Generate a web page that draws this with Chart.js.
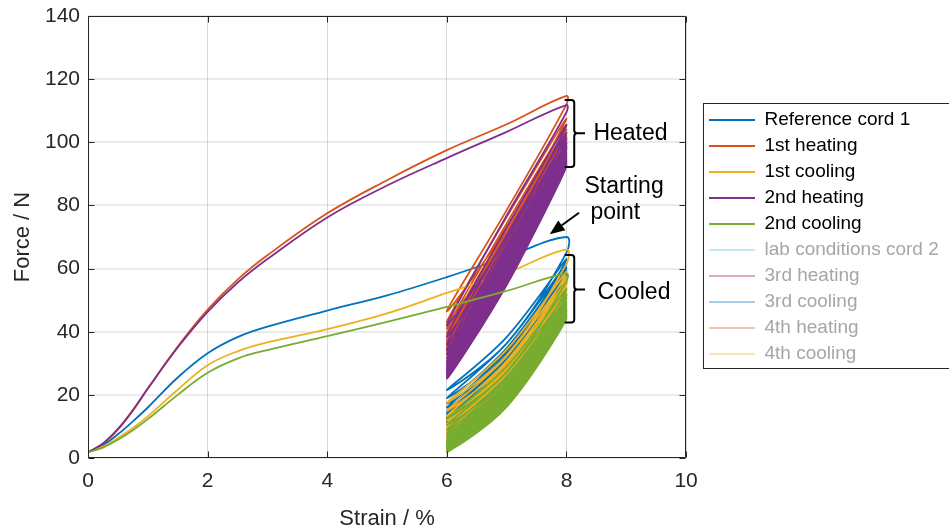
<!DOCTYPE html>
<html>
<head>
<meta charset="utf-8">
<script src="https://cdn.jsdelivr.net/npm/chart.js@4.4.1/dist/chart.umd.min.js"></script>
<style>
  html, body { margin: 0; padding: 0; background: #ffffff; }
  canvas { display: block; }
</style>
</head>
<body>
<canvas id="c" width="949" height="532"></canvas>
<script>
// ---------------- DATA ----------------
const seriesLabels = ['Reference cord 1', '1st heating', '1st cooling', '2nd heating', '2nd cooling',
                      'lab conditions cord 2', '3rd heating', '3rd cooling', '4th heating', '4th cooling'];
const xTickValues = [0, 2, 4, 6, 8, 10];
const yTickValues = [0, 20, 40, 60, 80, 100, 120, 140];

// strain levels of the cyclic part (%)
const cycleLow = 6, cycleMid = 7, cycleHigh = 8;

// first loading curve: strain (%) and force (N)
const initStrain = [0, 0.25, 0.5, 0.75, 1, 1.5, 2, 2.5, 3, 4, 5, 6, 7, 8];
const ref1Init  = [1.8, 4.0, 7.5, 11.6, 16.0, 25.5, 33.2, 38.3, 41.6, 46.7, 51.5, 57.3, 63.7, 70.0];
const heat1Init = [1.8, 4.5, 9.0, 15.0, 22.0, 35.3, 47.0, 56.5, 64.2, 77.5, 88.0, 97.5, 105.7, 114.7];
const cool1Init = [1.8, 3.6, 6.3, 9.5, 13.2, 21.6, 29.4, 33.8, 36.6, 40.8, 45.8, 52.3, 58.6, 66.0];
const heat2Init = [1.8, 4.6, 9.2, 15.2, 22.0, 35.0, 46.3, 55.5, 63.0, 76.2, 86.3, 95.0, 103.3, 111.8];
const cool2Init = [1.8, 3.3, 5.8, 8.8, 12.3, 20.0, 27.0, 31.5, 34.2, 38.6, 43.1, 47.9, 52.9, 58.5];

// cycles between 6 % and 8 %: force at 8 % (peaks), at 6 % (troughs),
// and at 7 % on the unloading and on the reloading path
const ref1Peaks   = [65, 63, 61.5, 60.3, 59.3, 58.5, 57.8, 57.2, 56.6, 56.1, 55.6, 55.2, 54.8];
const ref1Troughs = [21.5, 19, 17.3, 16, 15, 14.2, 13.5, 12.9, 12.4, 11.9, 11.5, 11.1];
const ref1Unload  = [36.3, 34, 32.4, 31.2, 30.2, 29.4, 28.7, 28, 27.5, 27, 26.6, 26.2];
const ref1Load    = [38.3, 36.3, 34.8, 33.7, 32.8, 32, 31.4, 30.8, 30.3, 29.8, 29.4, 29];

const heat1Peaks   = [112, 107.5, 105.5, 104, 103, 102, 101.2, 100.5, 99.8, 99.2, 98.6, 98, 97.5];
const heat1Troughs = [46.5, 43, 41, 39.5, 38.2, 37.2, 36.3, 35.5, 34.8, 34.2, 33.6, 33];
const heat1Unload  = [78.5, 76.3, 74.3, 72.8, 71.6, 70.6, 69.8, 69, 68.3, 67.7, 67.1, 66.5];
const heat1Load    = [73, 70.3, 68.5, 67.3, 66.1, 65.2, 64.4, 63.7, 63, 62.4, 61.8, 61.3];

const cool1Peaks   = [61.5, 59, 57.3, 56, 55, 54.2, 53.5, 52.9, 52.4, 51.9, 51.5, 51.1, 50.8];
const cool1Troughs = [17.5, 15, 13.3, 12, 11, 10.2, 9.5, 8.9, 8.4, 7.9, 7.5, 7.1];
const cool1Unload  = [32.5, 30, 28.3, 27, 26, 25.2, 24.5, 23.9, 23.4, 22.9, 22.5, 22.1];
const cool1Load    = [34.3, 32.2, 30.7, 29.5, 28.6, 27.9, 27.2, 26.7, 26.2, 25.7, 25.3, 25];

const heat2Peaks   = [109.5, 105.5, 103, 101.2, 99.8, 98.6, 97.6, 96.8, 96, 95.3, 94.7, 94.1, 93.6, 93.2, 92.8, 92.5, 92.3];
const heat2Troughs = [42, 38.5, 36, 34.2, 32.8, 31.6, 30.6, 29.8, 29.1, 28.5, 27.9, 27.4, 26.9, 26.4, 25.8, 25.2];
const heat2Unload  = [76.8, 73, 70.5, 68.7, 67.3, 66.1, 65.1, 64.3, 63.6, 62.9, 62.3, 61.8, 61.3, 60.8, 60.3, 59.9];
const heat2Load    = [69.8, 66.8, 64.6, 63, 61.7, 60.6, 59.7, 58.9, 58.2, 57.6, 57, 56.5, 56, 55.6, 55.1, 54.8];

const cool2Peaks   = [56, 53.5, 51.8, 50.5, 49.5, 48.7, 48, 47.4, 46.9, 46.4, 46, 45.6, 45.2, 44.9, 44.6, 44.3, 44];
const cool2Troughs = [12.5, 10.5, 9, 7.9, 7, 6.3, 5.7, 5.2, 4.7, 4.3, 3.9, 3.5, 3.1, 2.7, 2.3, 2];
const cool2Unload  = [27.3, 25, 23.4, 22.2, 21.3, 20.5, 19.9, 19.3, 18.8, 18.4, 18, 17.6, 17.2, 16.8, 16.5, 16.2];
const cool2Load    = [29, 27.2, 25.8, 24.7, 23.9, 23.2, 22.6, 22.1, 21.6, 21.2, 20.8, 20.4, 20, 19.7, 19.3, 19];

// ---------------- STYLE ----------------
const seriesColors = ['#0072BD', '#D95319', '#EDB120', '#7E2F8E', '#77AC30',
                      '#4DBEEE', '#A2142F', '#0072BD', '#D95319', '#EDB120'];
const FONT = "'Liberation Sans', Arial, Helvetica, sans-serif";
const AXIS_COLOR = '#262626';

function fade(hex, a) {
  const r = parseInt(hex.slice(1, 3), 16), g = parseInt(hex.slice(3, 5), 16), b = parseInt(hex.slice(5, 7), 16);
  return 'rgba(' + r + ',' + g + ',' + b + ',' + a + ')';
}

function buildSeries(init, peaks, troughs, unload, load) {
  const pts = initStrain.map((s, i) => ({ x: s, y: init[i] }));
  pts.push({ x: cycleHigh, y: peaks[0] });
  for (let i = 0; i < troughs.length; i++) {
    pts.push({ x: cycleMid, y: unload[i] });
    pts.push({ x: cycleLow, y: troughs[i] });
    pts.push({ x: cycleMid, y: load[i] });
    pts.push({ x: cycleHigh, y: peaks[i + 1] });
  }
  return pts;
}

const seriesData = [
  buildSeries(ref1Init, ref1Peaks, ref1Troughs, ref1Unload, ref1Load),
  buildSeries(heat1Init, heat1Peaks, heat1Troughs, heat1Unload, heat1Load),
  buildSeries(cool1Init, cool1Peaks, cool1Troughs, cool1Unload, cool1Load),
  buildSeries(heat2Init, heat2Peaks, heat2Troughs, heat2Unload, heat2Load),
  buildSeries(cool2Init, cool2Peaks, cool2Troughs, cool2Unload, cool2Load),
  [], [], [], [], []
];

const datasets = seriesLabels.map((lab, i) => {
  const shown = seriesData[i].length > 0;
  return {
    label: lab,
    data: seriesData[i],
    borderColor: seriesColors[i],
    backgroundColor: seriesColors[i],
    legendColor: shown ? seriesColors[i] : fade(seriesColors[i], 0.35),
    borderWidth: 1.8,
    pointRadius: 0,
    showLine: true,
    fill: false,
    tension: 0.38,
    order: 20 - i
  };
});

// ---------------- LAYOUT HELPERS ----------------
const LEGEND_FONT = 19;
const LEGEND_PAD = 7;
const LEGEND_BOX = 46;
const PLOT_RIGHT = 684;
const LEGEND_LINE_X = 709;

const mctx = document.createElement('canvas').getContext('2d');
mctx.font = LEGEND_FONT + 'px ' + FONT;
let maxText = 0;
seriesLabels.forEach(t => { maxText = Math.max(maxText, mctx.measureText(t).width); });
const legendW = LEGEND_PAD + LEGEND_BOX + LEGEND_FONT / 2 + maxText;
const padRight = Math.max(0, 949 - PLOT_RIGHT - legendW + 6);

// ---------------- PLUGINS ----------------
const legendShift = {
  id: 'legendShift',
  afterLayout(chart) {
    const lg = chart.legend;
    if (!lg) return;
    lg.left = LEGEND_LINE_X - LEGEND_PAD;
    lg.right = chart.width + 60;
    lg.width = lg.right - lg.left;
  }
};

const legendFrame = {
  id: 'legendFrame',
  afterDraw(chart) {
    const lg = chart.legend;
    if (!lg || !lg.legendHitBoxes || !lg.legendHitBoxes.length) return;
    const hb = lg.legendHitBoxes;
    const top = hb[0].top - 7.5;
    const bottom = hb[hb.length - 1].top + hb[hb.length - 1].height + 4.5;
    const left = LEGEND_LINE_X - 6;
    const ctx = chart.ctx;
    ctx.save();
    ctx.strokeStyle = AXIS_COLOR;
    ctx.lineWidth = 1;
    ctx.strokeRect(Math.round(left) + 0.5, Math.round(top) + 0.5, 400, Math.round(bottom - top));
    ctx.restore();
  }
};

const axesBox = {
  id: 'axesBox',
  afterDraw(chart) {
    const { ctx, chartArea: a, scales: { x, y } } = chart;
    const L = Math.round(a.left) + 0.5, R = Math.round(a.right) - 0.5;
    const T = Math.round(a.top) + 0.5, B = Math.round(a.bottom) - 0.5;
    const tl = 6;
    ctx.save();
    ctx.strokeStyle = AXIS_COLOR;
    ctx.lineWidth = 1;
    ctx.beginPath();
    ctx.rect(L, T, R - L, B - T);
    xTickValues.forEach(v => {
      const px = Math.round(x.getPixelForValue(v)) + 0.5;
      ctx.moveTo(px, B); ctx.lineTo(px, B - tl);
      ctx.moveTo(px, T); ctx.lineTo(px, T + tl);
    });
    yTickValues.forEach(v => {
      const py = Math.round(y.getPixelForValue(v)) + 0.5;
      ctx.moveTo(L, py); ctx.lineTo(L + tl, py);
      ctx.moveTo(R, py); ctx.lineTo(R - tl, py);
    });
    ctx.stroke();
    ctx.restore();
  }
};

// annotation positions in data units (strain %, force N)
const heatedBrace = { xHook: 7.97, xStem: 8.13, xTip: 8.31, yTop: 113.4, yBot: 92.2, yMid: 102.9 };
const cooledBrace = { xHook: 7.97, xStem: 8.13, xTip: 8.31, yTop: 64.3, yBot: 42.9, yMid: 53.4 };
const textNotes = [
  { text: 'Heated', x: 8.45, y: 100.7 },
  { text: 'Cooled', x: 8.52, y: 50.3 },
  { text: 'Starting', x: 8.30, y: 84.0 },
  { text: 'point', x: 8.40, y: 75.6 }
];
const startArrow = { x0: 8.21, y0: 77.7, x1: 7.72, y1: 70.9 };

const annotations = {
  id: 'annotations',
  afterDatasetsDraw(chart) {
    const { ctx, scales: { x, y } } = chart;
    const X = v => x.getPixelForValue(v), Y = v => y.getPixelForValue(v);
    ctx.save();
    ctx.strokeStyle = '#000';
    ctx.fillStyle = '#000';
    ctx.lineWidth = 2;
    ctx.lineJoin = 'round';
    [heatedBrace, cooledBrace].forEach(b => {
      const xh = X(b.xHook), xs = X(b.xStem), xt = X(b.xTip);
      const yt = Y(b.yTop), yb = Y(b.yBot), ym = Y(b.yMid);
      const r = 3;
      ctx.beginPath();
      ctx.moveTo(xh, yt);
      ctx.lineTo(xs - r, yt);
      ctx.quadraticCurveTo(xs, yt, xs, yt + r);
      ctx.lineTo(xs, ym - r);
      ctx.quadraticCurveTo(xs, ym, xs + r, ym);
      ctx.lineTo(xt, ym);
      ctx.moveTo(xs + r, ym);
      ctx.quadraticCurveTo(xs, ym, xs, ym + r);
      ctx.lineTo(xs, yb - r);
      ctx.quadraticCurveTo(xs, yb, xs - r, yb);
      ctx.lineTo(xh, yb);
      ctx.stroke();
    });
    // arrow
    const ax0 = X(startArrow.x0), ay0 = Y(startArrow.y0), ax1 = X(startArrow.x1), ay1 = Y(startArrow.y1);
    const ang = Math.atan2(ay1 - ay0, ax1 - ax0);
    const hl = 15, hw = 6;
    const bx = ax1 - hl * Math.cos(ang), by = ay1 - hl * Math.sin(ang);
    ctx.beginPath();
    ctx.moveTo(ax0, ay0);
    ctx.lineTo(bx, by);
    ctx.stroke();
    ctx.beginPath();
    ctx.moveTo(ax1, ay1);
    ctx.lineTo(bx + hw * Math.sin(ang), by - hw * Math.cos(ang));
    ctx.lineTo(bx - hw * Math.sin(ang), by + hw * Math.cos(ang));
    ctx.closePath();
    ctx.fill();
    // texts
    ctx.font = '23px ' + FONT;
    ctx.textAlign = 'left';
    ctx.textBaseline = 'alphabetic';
    textNotes.forEach(t => ctx.fillText(t.text, X(t.x), Y(t.y)));
    ctx.restore();
  }
};

// ---------------- CHART ----------------
Chart.defaults.font.family = FONT;

new Chart(document.getElementById('c'), {
  type: 'scatter',
  data: { datasets },
  options: {
    responsive: false,
    animation: false,
    devicePixelRatio: 1,
    layout: { padding: { left: 0, right: padRight, top: 16, bottom: 0 } },
    plugins: {
      tooltip: { enabled: false },
      legend: {
        display: true,
        position: 'right',
        align: 'center',
        fullSize: false,
        onClick: null,
        labels: {
          boxWidth: LEGEND_BOX,
          boxHeight: 2,
          padding: LEGEND_PAD,
          font: { size: LEGEND_FONT, family: FONT },
          color: '#000',
          generateLabels(chart) {
            return chart.data.datasets.map((ds, i) => ({
              text: ds.label,
              fillStyle: ds.legendColor,
              strokeStyle: ds.legendColor,
              lineWidth: 0,
              hidden: false,
              fontColor: ds.data.length ? '#000000' : '#a6a6a6',
              datasetIndex: i
            }));
          }
        }
      }
    },
    scales: {
      x: {
        type: 'linear',
        min: 0, max: 10,
        afterBuildTicks(s) { s.ticks = xTickValues.map(v => ({ value: v })); },
        afterFit(s) { s.height = 74; },
        border: { display: false },
        grid: { color: 'rgba(0,0,0,0.15)', lineWidth: 1, drawTicks: false },
        ticks: { color: AXIS_COLOR, font: { size: 21 }, padding: 11, maxRotation: 0 },
        title: { display: true, text: 'Strain / %', color: AXIS_COLOR, font: { size: 22 }, padding: { top: 0, bottom: 0 } }
      },
      y: {
        type: 'linear',
        min: 0, max: 140,
        afterBuildTicks(s) { s.ticks = yTickValues.map(v => ({ value: v })); },
        afterFit(s) { s.width = 88; },
        border: { display: false },
        grid: { color: 'rgba(0,0,0,0.08)', lineWidth: 2, drawTicks: false },
        ticks: { color: AXIS_COLOR, font: { size: 21, lineHeight: 0.7 }, padding: 8 },
        title: { display: true, text: 'Force / N', color: AXIS_COLOR, font: { size: 22 }, padding: { top: 10, bottom: 0 } }
      }
    }
  },
  plugins: [legendShift, annotations, axesBox, legendFrame]
});
</script>
</body>
</html>
